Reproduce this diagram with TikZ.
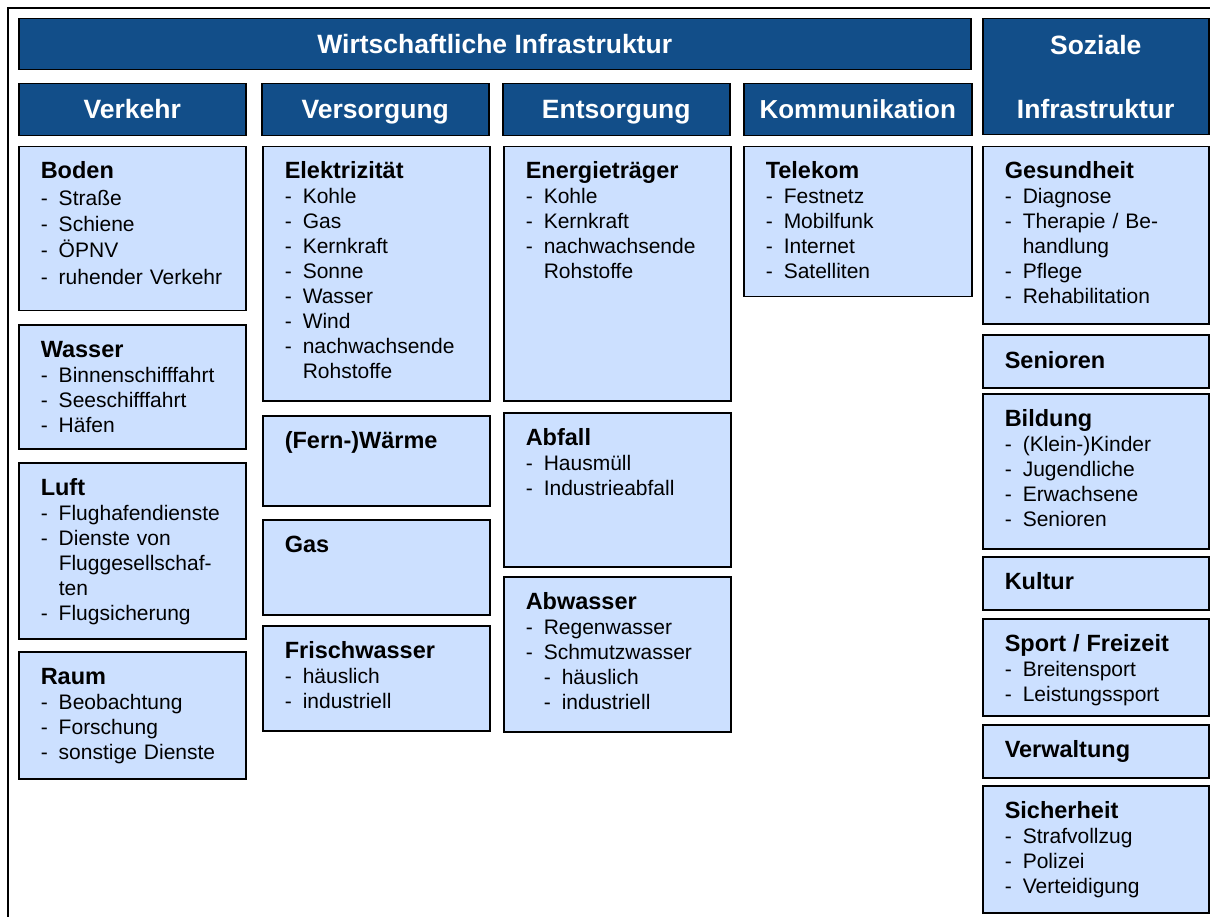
\documentclass[tikz,border=0pt]{standalone}
\usepackage{fontspec}
\setmainfont{Liberation Sans}
\usepackage{tikz}
\usepackage{color}
\definecolor{kopfblau}{RGB}{18,78,137}
\definecolor{feldblau}{RGB}{204,224,255}
\newcommand{\pkt}{\makebox[18pt][l]{-}}
\newcommand{\ein}{\hspace*{18pt}}
\newcommand{\titel}[1]{{\fontsize{23.5}{25}\selectfont\bfseries #1}}

\begin{document}
\begin{tikzpicture}[x=1pt,y=-1pt,line width=1.5pt]
  \tikzstyle{kopfrahmen}=[draw=black,fill=kopfblau,text=white,anchor=north west,inner sep=0pt,
                          font=\fontsize{26.5}{30}\selectfont\bfseries]
  \tikzstyle{kopf}=[kopfrahmen,text height=19pt,text depth=1pt,minimum height=52pt,minimum width=227pt]
  \tikzstyle{feld}=[draw=black,fill=feldblau,anchor=north west,inner sep=0pt,minimum width=227pt]
  \tikzstyle{liste}=[anchor=base west,inner sep=0pt,text width=200pt,align=left,
                     font=\fontsize{21}{25}\selectfont]

  \useasboundingbox (0,0) rectangle (1210,917);
  \clip (0,0) rectangle (1210,917);
  \draw (8,8) rectangle (1240,950);

  % Kopfzeilen
  \node[kopf,minimum width=952pt,minimum height=51pt] (wirtschaft) at (18,18) {Wirtschaftliche Infrastruktur};
  \node[kopfrahmen,minimum width=226pt,minimum height=116pt,text width=220pt,align=center,
        font=\fontsize{26.5}{64}\selectfont\bfseries] (sozial) at (982,18) {Soziale\\Infrastruktur};
  \node[kopf] (verkehr)    at (18,83)  {Verkehr};
  \node[kopf] (versorgung) at (261,83) {Versorgung};
  \node[kopf] (entsorgung) at (502,83) {Entsorgung};
  \node[kopf,minimum width=228pt,font=\fontsize{26}{30}\selectfont\bfseries] (komm) at (743,83) {Kommunikation};

  % Verkehr
  \node[feld,minimum height=164pt] (boden) at (18,146) {};
  \node[liste,font=\fontsize{21}{26.3}\selectfont] (boden-t) at ([shift={(22,33)}]boden.north west)
    {\titel{Boden}\\ \pkt Straße\\ \pkt Schiene\\ \pkt ÖPNV\\ \pkt ruhender Verkehr};
  \node[feld,minimum height=124pt] (wasser) at (18,324) {};
  \node[liste] (wasser-t) at ([shift={(22,33)}]wasser.north west)
    {\titel{Wasser}\\ \pkt Binnenschifffahrt\\ \pkt Seeschifffahrt\\ \pkt Häfen};
  \node[feld,minimum height=176pt] (luft) at (18,462) {};
  \node[liste] (luft-t) at ([shift={(22,33)}]luft.north west)
    {\titel{Luft}\\ \pkt Flughafendienste\\ \pkt Dienste von\\ \ein Fluggesellschaf-\\ \ein ten\\ \pkt Flugsicherung};
  \node[feld,minimum height=127pt] (raum) at (18,651) {};
  \node[liste] (raum-t) at ([shift={(22,33)}]raum.north west)
    {\titel{Raum}\\ \pkt Beobachtung\\ \pkt Forschung\\ \pkt sonstige Dienste};

  % Versorgung
  \node[feld,minimum height=254pt] (elektro) at (262,146) {};
  \node[liste] (elektro-t) at ([shift={(22,33)}]elektro.north west)
    {\titel{Elektrizität}\\ \pkt Kohle\\ \pkt Gas\\ \pkt Kernkraft\\ \pkt Sonne\\ \pkt Wasser\\ \pkt Wind\\
     \pkt nachwachsende\\ \ein Rohstoffe};
  \node[feld,minimum height=90pt] (waerme) at (262,415) {};
  \node[liste] (waerme-t) at ([shift={(22,33)}]waerme.north west) {\titel{(Fern-)Wärme}};
  \node[feld,minimum height=95pt] (gas) at (262,519) {};
  \node[liste] (gas-t) at ([shift={(22,33)}]gas.north west) {\titel{Gas}};
  \node[feld,minimum height=105pt] (frisch) at (262,625) {};
  \node[liste] (frisch-t) at ([shift={(22,33)}]frisch.north west)
    {\titel{Frischwasser}\\ \pkt häuslich\\ \pkt industriell};

  % Entsorgung
  \node[feld,minimum height=254pt] (energie) at (503,146) {};
  \node[liste] (energie-t) at ([shift={(22,33)}]energie.north west)
    {\titel{Energieträger}\\ \pkt Kohle\\ \pkt Kernkraft\\ \pkt nachwachsende\\ \ein Rohstoffe};
  \node[feld,minimum height=154pt] (abfall) at (503,412) {};
  \node[liste] (abfall-t) at ([shift={(22,33)}]abfall.north west)
    {\titel{Abfall}\\ \pkt Hausmüll\\ \pkt Industrieabfall};
  \node[feld,minimum height=155pt] (abwasser) at (503,576) {};
  \node[liste] (abwasser-t) at ([shift={(22,33)}]abwasser.north west)
    {\titel{Abwasser}\\ \pkt Regenwasser\\ \pkt Schmutzwasser\\ \ein\pkt häuslich\\ \ein\pkt industriell};

  % Kommunikation
  \node[feld,minimum width=228pt,minimum height=150pt] (telekom) at (743,146) {};
  \node[liste] (telekom-t) at ([shift={(22,33)}]telekom.north west)
    {\titel{Telekom}\\ \pkt Festnetz\\ \pkt Mobilfunk\\ \pkt Internet\\ \pkt Satelliten};

  % Soziale Infrastruktur
  \node[feld,minimum width=226pt,minimum height=177pt] (gesund) at (982,146) {};
  \node[liste] (gesund-t) at ([shift={(22,33)}]gesund.north west)
    {\titel{Gesundheit}\\ \pkt Diagnose\\ \pkt Therapie / Be-\\ \ein handlung\\ \pkt Pflege\\ \pkt Rehabilitation};
  \node[feld,minimum width=226pt,minimum height=53pt] (senioren) at (982,334) {};
  \node[liste] (senioren-t) at ([shift={(22,34)}]senioren.north west) {\titel{Senioren}};
  \node[feld,minimum width=226pt,minimum height=155pt] (bildung) at (982,393) {};
  \node[liste] (bildung-t) at ([shift={(22,33)}]bildung.north west)
    {\titel{Bildung}\\ \pkt (Klein-)Kinder\\ \pkt Jugendliche\\ \pkt Erwachsene\\ \pkt Senioren};
  \node[feld,minimum width=226pt,minimum height=53pt] (kultur) at (982,556) {};
  \node[liste] (kultur-t) at ([shift={(22,33)}]kultur.north west) {\titel{Kultur}};
  \node[feld,minimum width=226pt,minimum height=97pt] (sport) at (982,618) {};
  \node[liste] (sport-t) at ([shift={(22,33)}]sport.north west)
    {\titel{Sport / Freizeit}\\ \pkt Breitensport\\ \pkt Leistungssport};
  \node[feld,minimum width=226pt,minimum height=53pt] (verwaltung) at (982,724) {};
  \node[liste] (verwaltung-t) at ([shift={(22,33)}]verwaltung.north west) {\titel{Verwaltung}};
  \node[feld,minimum width=226pt,minimum height=127pt] (sicher) at (982,785) {};
  \node[liste] (sicher-t) at ([shift={(22,33)}]sicher.north west)
    {\titel{Sicherheit}\\ \pkt Strafvollzug\\ \pkt Polizei\\ \pkt Verteidigung};
\end{tikzpicture}
\end{document}
